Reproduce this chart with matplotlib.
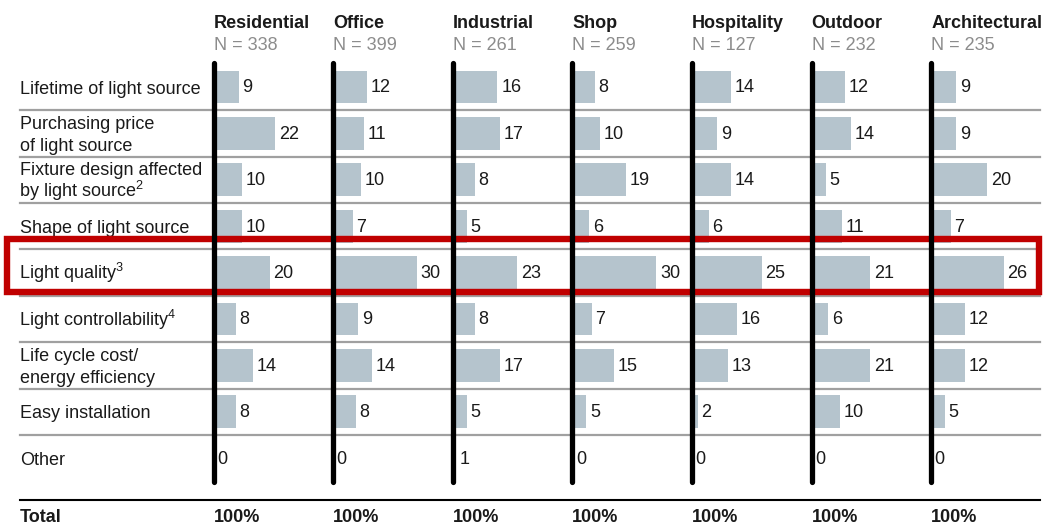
import matplotlib
matplotlib.use("Agg")
import matplotlib.pyplot as plt
from matplotlib.patches import Rectangle

plt.rcParams["font.family"] = ["Liberation Sans", "DejaVu Sans"]
plt.rcParams["mathtext.fontset"] = "custom"
plt.rcParams["mathtext.rm"] = "Liberation Sans"
plt.rcParams["mathtext.it"] = "Liberation Sans"
plt.rcParams["mathtext.default"] = "rm"

# Data
segments = ["Residential", "Office", "Industrial", "Shop", "Hospitality", "Outdoor", "Architectural"]
sample_sizes = [338, 399, 261, 259, 127, 232, 235]
criteria = [
    "Lifetime of light source",
    "Purchasing price\nof light source",
    "Fixture design affected\nby light source$^{2}$",
    "Shape of light source",
    "Light quality$^{3}$",
    "Light controllability$^{4}$",
    "Life cycle cost/\nenergy efficiency",
    "Easy installation",
    "Other",
]
# shares in %, one list per segment (same order as criteria)
residential = [9, 22, 10, 10, 20, 8, 14, 8, 0]
office = [12, 11, 10, 7, 30, 9, 14, 8, 0]
industrial = [16, 17, 8, 5, 23, 8, 17, 5, 1]
shop = [8, 10, 19, 6, 30, 7, 15, 5, 0]
hospitality = [14, 9, 14, 6, 25, 16, 13, 2, 0]
outdoor = [12, 14, 5, 11, 21, 6, 21, 10, 0]
architectural = [9, 9, 20, 7, 26, 12, 12, 5, 0]
shares = [residential, office, industrial, shop, hospitality, outdoor, architectural]
totals = ["100%"] * len(segments)

# Layout (pixels)
W, H = 1044, 531
BAR_COLOR = "#b5c4cd"
TEXT = "#1a1a1a"
FS = 13
col_x = [213.5 + 119.6 * i for i in range(len(segments))]
row_top, row_h = 63.8, 46.4
n_rows = len(criteria)
px_per_unit = 2.8
col_w = 118
line_gap = 21.7

fig = plt.figure(figsize=(W / 100, H / 100), dpi=100)

# background axis in pixel coordinates, drawn on top of the bar panels
bg = fig.add_axes([0, 0, 1, 1])
bg.set_xlim(0, W)
bg.set_ylim(H, 0)
bg.axis("off")
bg.set_zorder(10)
bg.patch.set_alpha(0)

row_centers = [row_top + row_h * (i + 0.5) for i in range(n_rows)]

# gray separators between rows
for i in range(1, n_rows):
    y = row_top + row_h * i
    bg.plot([20, 1040], [y, y], color="#a0a0a0", lw=1.6, zorder=1)

# row labels, one text per line so mathtext superscripts don't shift spacing
for label, yc in zip(criteria, row_centers):
    lines = label.split("\n")
    for j, line in enumerate(lines):
        base = yc + 6.5 + (j - (len(lines) - 1) / 2) * line_gap
        x = 19 if "$" in line else 20
        bg.text(x, base, line, fontsize=FS, color=TEXT, ha="left", va="baseline")

# headers
for name, n, x in zip(segments, sample_sizes, col_x):
    bg.text(x, 23, name, fontsize=FS, fontweight="bold", color=TEXT,
            ha="left", va="center")
    bg.text(x, 45, f"N = {n}", fontsize=FS, color="#8c8c8c", ha="left", va="center")

# total row
bg.plot([20, 1040], [500, 500], color="black", lw=1.5)
bg.text(20, 518, "Total", fontsize=FS, fontweight="bold", color=TEXT,
        ha="left", va="center")
for t, x in zip(totals, col_x):
    bg.text(x, 518, t, fontsize=FS, fontweight="bold", color=TEXT,
            ha="left", va="center")

# highlight box around "Light quality"
bg.add_patch(Rectangle((6.5, 239), 1032, 53, fill=False, edgecolor="#c00000",
                       lw=4.6, zorder=5))

# bar panels
y0 = row_top
y1 = row_top + row_h * n_rows
for vals, x in zip(shares, col_x):
    ax = fig.add_axes([x / W, 1 - y1 / H, col_w / W, (y1 - y0) / H])
    ax.set_xlim(0, col_w / px_per_unit)
    ax.set_ylim(n_rows - 0.5, -0.5)
    ax.axis("off")
    ax.patch.set_alpha(0)
    ax.barh(range(n_rows), vals, height=0.71, color=BAR_COLOR, zorder=2)
    for i, v in enumerate(vals):
        ax.text(v + 1.3, i + 0.02, str(v), fontsize=FS, color=TEXT, ha="left", va="center")
    bg.plot([x, x], [63, 482], color="black", lw=3.8, solid_capstyle="round", zorder=6)

fig.savefig("out.png", dpi=100)
